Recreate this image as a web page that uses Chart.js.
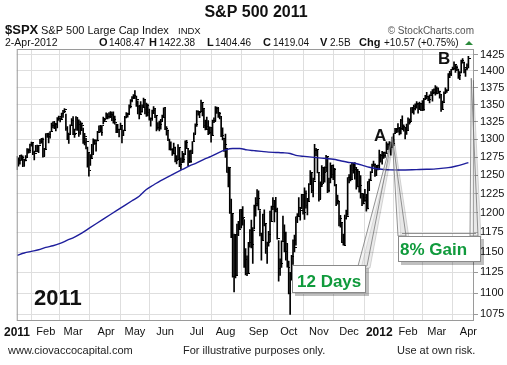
<!DOCTYPE html>
<html><head><meta charset="utf-8">
<script src="https://cdn.jsdelivr.net/npm/chart.js@4.4.1/dist/chart.umd.min.js"></script>
<style>html,body{margin:0;padding:0;background:#fff;}#wrap{width:507px;height:365px;}</style>
</head><body><div id="wrap"><canvas id="c" width="507" height="365"></canvas></div>
<script>
// Daily bars, trading-day index 0 = 3-Jan-2011 ... 314 = 2-Apr-2012
const highs=[
1276.17,1274.12,1277.63,1278.17,1276.83,1271.52,1277.25,1286.87,1286.70,1293.24,1296.06,1294.42,1283.32,1291.26,1291.93,1291.26,1299.74,1301.29,1301.71,1287.17,
1308.14,1306.89,1308.60,1311.00,1322.85,1324.87,1324.57,1322.49,1330.79,1332.96,1330.92,1337.61,1341.50,1344.07,1336.00,1317.91,1308.61,1320.61,1329.38,
1332.28,1314.39,1332.28,1331.08,1327.68,1325.74,1323.21,1315.72,1308.35,1301.19,1288.88,1280.91,1278.66,1292.74,1300.58,1299.35,1299.18,1311.34,1319.18,1319.74,1319.45,1331.74,1329.77,
1337.85,1336.74,1338.21,1339.46,1338.80,1339.38,1333.16,1321.41,1321.35,1314.41,1322.88,1319.68,1313.07,1332.66,1338.11,1337.49,1349.55,1357.32,1361.71,1364.56,
1370.58,1362.41,1355.43,1348.84,1354.36,1349.44,1359.44,1357.16,1351.97,1350.47,1343.33,1330.42,1341.87,1346.82,1342.82,1333.27,1323.72,1325.85,1328.51,1334.62,1345.20,
1345.20,1318.03,1312.94,1300.16,1296.22,1287.04,1294.54,1289.00,1277.30,1292.50,1287.87,1274.11,1283.05,1280.42,1297.62,1298.61,1286.79,1283.93,1284.91,1296.80,1309.21,1321.97,
1341.01,1340.89,1340.12,1356.48,1353.22,1343.31,1327.17,1331.48,1326.68,1317.70,1316.14,1327.16,1330.43,1347.00,1346.10,1344.32,1338.51,1331.91,1316.32,1300.67,
1307.38,1286.56,1261.20,1260.10,1218.11,1198.74,1172.88,1172.64,1185.76,1189.04,1204.49,1204.49,1208.47,1191.40,1154.54,1145.49,1162.35,1178.47,1190.68,1181.23,1210.28,1220.06,1230.71,
1229.29,1203.22,1173.97,1198.62,1204.23,1185.90,1162.59,1176.41,1202.38,1209.11,1220.06,1216.01,1220.39,1206.30,1164.55,1141.72,1164.19,1195.86,1184.71,1175.22,1160.40,
1138.99,1125.12,1146.07,1165.55,1171.40,1194.91,1199.24,1220.25,1207.46,1224.61,1224.58,1233.10,1229.29,1219.36,1239.03,1256.55,1254.19,1246.28,1292.66,1287.08,1285.09,
1253.30,1241.10,1263.21,1260.82,1261.70,1277.55,1275.92,1246.22,1266.98,1263.85,1264.25,1259.61,1237.73,1223.51,1215.65,1196.81,1187.35,1172.66,1197.35,1203.67,1247.11,
1251.09,1264.25,1267.06,1266.73,1267.41,1260.87,1258.25,1255.19,1249.86,1225.73,1225.59,1231.04,1224.57,1241.59,1245.09,1255.22,1265.42,1269.37,1265.85,1263.54,1264.12,
1284.62,1278.73,1283.05,1281.84,1281.99,1296.46,1293.80,1296.82,1294.78,1303.00,1308.11,1315.49,1315.38,1322.28,1315.38,1328.30,1333.47,1320.45,1316.33,1321.41,
1330.52,1329.19,1345.34,1344.90,1349.24,1351.00,1354.32,1351.95,1353.35,1351.77,1355.87,1359.02,1363.40,1367.76,1362.21,1364.24,1368.92,1371.94,1373.09,1378.04,
1376.17,1374.53,1369.59,1363.63,1354.85,1368.72,1374.76,1371.94,1396.13,1399.42,1402.63,1405.88,1414.00,1409.72,1407.75,1402.89,1399.18,1416.58,1419.15,1413.65,1403.28,1410.89,
1422.38];
const lows=[
1257.62,1262.66,1265.36,1270.43,1261.70,1262.18,1269.62,1274.48,1280.47,1281.24,1290.16,1278.44,1271.26,1282.07,1282.47,1281.07,1293.55,1294.41,1274.81,1276.34,
1286.12,1302.62,1294.83,1301.67,1310.87,1316.03,1314.89,1311.74,1316.08,1326.90,1324.82,1329.01,1331.00,1338.12,1312.34,1299.55,1294.26,1307.34,1320.55,
1306.33,1302.58,1312.75,1312.59,1303.99,1306.86,1312.27,1294.21,1291.99,1286.37,1261.12,1249.05,1263.59,1273.72,1279.21,1292.70,1283.27,1297.74,1310.15,1310.19,1305.26,1321.89,1325.03,
1328.89,1329.10,1330.03,1330.67,1326.56,1322.94,1321.41,1309.19,1309.19,1303.11,1313.68,1294.70,1305.14,1312.62,1330.36,1331.70,1335.25,1344.80,1353.60,1358.69,
1358.59,1347.09,1336.36,1329.17,1336.58,1338.64,1346.29,1336.30,1332.66,1333.36,1327.32,1318.51,1326.99,1336.71,1330.68,1311.80,1313.87,1311.80,1314.41,1325.69,1331.10,
1313.71,1305.61,1297.90,1284.89,1284.74,1277.42,1279.56,1268.53,1265.64,1272.22,1261.90,1258.07,1267.64,1267.56,1278.36,1286.79,1262.87,1267.24,1267.53,1280.10,1296.67,1307.61,
1318.18,1334.30,1330.92,1339.22,1333.20,1316.42,1313.33,1314.49,1306.51,1307.35,1295.92,1305.44,1323.65,1325.84,1336.95,1331.09,1329.10,1303.49,1299.16,1282.86,
1274.73,1254.03,1234.56,1199.54,1168.09,1119.28,1101.54,1118.24,1121.09,1170.74,1178.81,1180.53,1184.36,1131.10,1122.05,1121.09,1124.26,1156.30,1155.47,1135.91,1179.28,1195.77,1209.35,
1203.85,1170.56,1140.13,1165.24,1183.34,1148.37,1136.07,1157.44,1162.73,1189.12,1204.46,1188.27,1201.26,1166.21,1114.22,1121.36,1131.07,1163.11,1150.31,1139.93,1131.34,
1098.92,1074.77,1115.68,1134.95,1150.26,1158.66,1187.30,1196.57,1190.58,1205.54,1198.55,1191.48,1206.31,1197.34,1215.39,1238.25,1226.79,1221.06,1243.42,1277.01,1253.30,
1215.42,1218.36,1234.81,1238.92,1240.75,1254.99,1226.64,1227.70,1239.70,1246.68,1244.34,1235.67,1209.43,1211.36,1183.16,1181.65,1161.79,1158.66,1158.67,1191.80,1196.72,
1239.73,1242.48,1244.80,1253.03,1244.80,1231.47,1234.35,1227.45,1219.43,1209.47,1211.82,1215.20,1202.37,1205.35,1229.51,1243.72,1254.00,1262.30,1248.64,1249.64,1257.46,
1258.86,1268.10,1265.26,1273.34,1274.55,1280.70,1285.41,1285.77,1277.58,1289.09,1290.99,1308.04,1309.17,1309.89,1306.06,1307.65,1313.60,1311.42,1300.49,1306.69,
1313.40,1321.57,1325.54,1337.52,1335.92,1341.95,1344.63,1337.35,1342.64,1340.83,1340.80,1341.22,1357.24,1358.11,1355.53,1352.28,1363.46,1354.92,1365.97,1363.81,
1365.68,1366.42,1359.13,1340.03,1343.36,1352.65,1365.91,1367.64,1371.09,1389.97,1392.78,1401.47,1402.43,1397.68,1400.64,1388.73,1386.87,1397.11,1411.95,1397.20,1391.56,1401.42,
1404.46];
const closes=[
1271.87,1270.20,1276.56,1273.85,1271.50,1269.75,1274.48,1285.96,1283.76,1293.24,1295.02,1281.92,1280.26,1283.35,1290.84,1291.18,1296.63,1299.54,1276.34,1286.12,
1307.59,1304.03,1307.10,1310.87,1319.05,1324.57,1320.88,1321.87,1329.15,1332.32,1328.01,1336.32,1340.43,1343.01,1315.44,1307.40,1306.10,1319.88,1327.22,
1306.33,1308.44,1330.97,1321.15,1310.13,1321.82,1320.02,1295.11,1304.28,1296.39,1281.87,1256.88,1273.72,1279.21,1298.38,1293.77,1297.54,1309.66,1313.80,1310.19,1319.44,1328.26,1325.83,
1332.41,1332.87,1332.63,1335.54,1333.51,1328.17,1324.46,1314.16,1314.41,1314.52,1319.68,1305.14,1312.62,1330.36,1337.38,1335.25,1347.24,1355.66,1360.48,1363.61,
1361.22,1356.62,1347.32,1335.10,1340.20,1346.29,1357.16,1342.08,1348.65,1337.77,1329.47,1328.98,1340.68,1343.60,1333.27,1317.37,1316.28,1320.47,1325.69,1331.10,1345.20,
1314.55,1312.94,1300.16,1286.17,1284.94,1279.56,1289.00,1270.98,1271.83,1287.87,1265.42,1267.64,1271.50,1278.36,1295.52,1287.14,1283.50,1268.45,1280.10,1296.67,1307.41,1320.64,
1339.67,1337.88,1339.22,1353.22,1343.80,1319.49,1313.64,1317.72,1308.87,1316.14,1305.44,1326.73,1325.84,1343.80,1345.02,1337.43,1331.94,1304.89,1300.67,1292.28,
1286.94,1254.05,1260.34,1200.07,1199.38,1119.46,1172.53,1120.76,1172.64,1178.81,1204.49,1192.76,1193.89,1140.65,1123.53,1123.82,1162.35,1177.60,1159.27,1176.80,1210.08,1212.92,1218.89,
1204.42,1173.97,1165.24,1198.62,1185.90,1154.23,1162.27,1172.87,1188.68,1209.11,1216.01,1204.09,1202.09,1166.76,1129.56,1136.43,1162.95,1175.38,1151.06,1160.40,1131.42,
1099.23,1123.95,1144.03,1164.97,1155.46,1194.89,1195.54,1207.25,1203.66,1224.58,1200.86,1225.38,1209.88,1215.39,1238.25,1254.19,1229.05,1242.00,1284.59,1285.09,1253.30,
1218.28,1237.90,1261.15,1253.23,1261.12,1275.92,1229.10,1239.70,1263.85,1251.78,1257.81,1236.91,1216.13,1215.65,1192.98,1188.04,1161.79,1158.67,1192.55,1195.19,1246.96,
1244.58,1244.28,1257.08,1258.47,1261.01,1234.35,1255.19,1236.47,1225.73,1211.82,1215.75,1219.66,1205.35,1241.30,1243.72,1254.00,1265.33,1265.43,1249.64,1263.02,1257.60,
1277.06,1277.30,1281.06,1277.81,1280.70,1292.08,1292.48,1295.50,1289.09,1293.67,1308.04,1314.50,1315.38,1316.00,1314.65,1326.06,1318.43,1316.33,1313.01,1312.41,
1324.09,1325.54,1344.90,1344.33,1347.05,1349.96,1351.95,1342.64,1351.77,1350.50,1343.23,1358.04,1361.23,1362.21,1357.66,1363.46,1365.74,1367.59,1372.18,1365.68,
1374.09,1369.63,1364.33,1343.36,1352.63,1365.91,1370.87,1371.09,1395.95,1394.28,1402.60,1404.17,1409.75,1405.52,1402.89,1392.78,1397.11,1416.51,1412.52,1405.54,1403.28,1408.47,
1419.04];
// 200-day moving average (every 5th trading day)
const maIdx=[0,5,10,15,20,25,30,35,40,45,50,55,60,65,70,75,80,85,90,95,100,105,110,115,120,125,130,135,140,145,150,155,160,165,170,175,180,185,190,195,200,205,210,215,220,225,230,235,240,245,250,255,260,265,270,275,280,285,290,295,300,305,310,314];
const maVals=[1146,1149,1151,1153,1156,1158,1161,1165,1169,1174,1180,1186,1192,1198,1204,1210,1216,1222,1231,1237,1243,1248,1253,1258,1263,1267,1272,1276,1281,1285,1287,1287,1285,1284,1283,1282,1281.5,1281,1280,1277,1276,1275,1274,1273,1272,1270,1268,1266.5,1264,1261,1259,1258,1257.5,1257.4,1257.4,1257.6,1258,1258.3,1258.5,1259.5,1260.5,1262.5,1265,1267.5];
const yTicks=[1075,1100,1125,1150,1175,1200,1225,1250,1275,1300,1325,1350,1375,1400,1425];
const monthIdx=[0,20,39,62,82,103,125,145,168,189,210,231,252,272,292,314];
const monthLabels=['2011','Feb','Mar','Apr','May','Jun','Jul','Aug','Sep','Oct','Nov','Dec','2012','Feb','Mar','Apr'];

const FF="'Liberation Sans', Arial, sans-serif";
Chart.defaults.font.family=FF;

// right-hand close tick
const tick=document.createElement('canvas'); tick.width=5; tick.height=1;
{const t=tick.getContext('2d'); t.fillStyle='#000'; t.fillRect(3,0,2,1);}

const rangeData=highs.map((h,i)=>({x:i,y:[lows[i],h]}));
const closeData=closes.map((c,i)=>({x:i,y:c}));
const maData=maIdx.map((v,i)=>({x:v,y:maVals[i]}));

function wedge(ctx,tip,b1,b2){
  ctx.beginPath();ctx.moveTo(tip[0]+2,tip[1]+2);ctx.lineTo(b1[0]+3,b1[1]+2);ctx.lineTo(b2[0]+3,b2[1]+2);ctx.closePath();
  ctx.fillStyle='rgba(0,0,0,0.08)';ctx.fill();
  ctx.strokeStyle='rgba(0,0,0,0.15)';ctx.lineWidth=1;ctx.stroke();
  ctx.beginPath();ctx.moveTo(tip[0],tip[1]);ctx.lineTo(b1[0],b1[1]);ctx.lineTo(b2[0],b2[1]);ctx.closePath();
  ctx.fillStyle='rgba(225,225,225,0.35)';ctx.fill();
  ctx.strokeStyle='rgba(120,120,120,0.8)';ctx.lineWidth=1;ctx.stroke();
}
function callBox(ctx,x,y,w,h){
  ctx.fillStyle='rgba(0,0,0,0.25)';ctx.fillRect(x+3,y+3,w,h);
  ctx.fillStyle='#fff';ctx.fillRect(x,y,w,h);
  ctx.strokeStyle='#8a8a8a';ctx.lineWidth=1;ctx.strokeRect(x+0.5,y+0.5,w-1,h-1);
}

const overlay={
  id:'overlay',
  afterDraw(chart){
    const {ctx,chartArea:a,scales:{x,y}}=chart;
    ctx.save();
    ctx.strokeStyle='#9a9a9a';ctx.lineWidth=1;
    ctx.strokeRect(a.left+0.5,a.top+0.5,a.right-a.left-1,a.bottom-a.top-1);
    const tipA=[x.getPixelForValue(261),y.getPixelForValue(1303)];
    const tipB=[x.getPixelForValue(316),y.getPixelForValue(1389)];
    wedge(ctx,tipA,[358,266],[367,266]);
    wedge(ctx,tipA,[398,236],[406,236]);
    wedge(ctx,tipB,[470,236],[478,236]);
    ctx.strokeStyle='rgba(120,120,120,0.8)';
    ctx.beginPath();ctx.moveTo(402,233.5);ctx.lineTo(476,233.5);ctx.stroke();
    callBox(ctx,292,265,74,28);
    callBox(ctx,398,236,83,26);
    ctx.fillStyle='#109a3c';ctx.font='bold 17px '+FF;ctx.textBaseline='alphabetic';ctx.textAlign='left';
    ctx.fillText('12 Days',297,287);
    ctx.fillText('8% Gain',400,255);
    ctx.fillStyle='#111';
    ctx.font='bold 17px '+FF;
    ctx.fillText('A',374,141);
    ctx.fillText('B',438,64);
    ctx.font='bold 22px '+FF;
    ctx.fillText('2011',34,305);
    ctx.textAlign='center';ctx.font='bold 16px '+FF;ctx.fillStyle='#111';
    ctx.fillText('S&P 500 2011',256,17);
    ctx.textAlign='left';
    ctx.font='bold 13px '+FF;ctx.fillText('$SPX',5,34);
    ctx.font='11px '+FF;ctx.fillText('S&P 500 Large Cap Index',41,34);
    ctx.font='9.5px '+FF;ctx.fillText('INDX',178,34);
    ctx.textAlign='right';ctx.fillStyle='#555';ctx.font='10px '+FF;
    ctx.fillText('\u00A9 StockCharts.com',474,34);
    ctx.textAlign='left';ctx.fillStyle='#111';
    ctx.font='10.5px '+FF;ctx.fillText('2-Apr-2012',5,46);
    const parts=[['O',99,'1408.47',109],['H',149,'1422.38',159],['L',207,'1404.46',215],['C',263,'1419.04',273],['V',320,'2.5B',330],['Chg',359,'+10.57 (+0.75%)',384]];
    parts.forEach(p=>{ctx.font='bold 11px '+FF;ctx.fillText(p[0],p[1],46);ctx.font='10px '+FF;ctx.fillText(p[2],p[3],46);});
    ctx.fillStyle='#2a8a3a';ctx.beginPath();ctx.moveTo(465,45);ctx.lineTo(473,45);ctx.lineTo(469,41);ctx.closePath();ctx.fill();
    ctx.fillStyle='#222';ctx.font='11px '+FF;
    ctx.fillText('www.ciovaccocapital.com',8,354);
    ctx.fillText('For illustrative purposes only.',183,354);
    ctx.fillText('Use at own risk.',397,354);
    ctx.restore();
  }
};

new Chart(document.getElementById('c'),{
  type:'bar',
  data:{datasets:[
    {type:'line',label:'200-day MA',data:maData,borderColor:'#1e1e9c',borderWidth:1.4,pointRadius:0,cubicInterpolationMode:'monotone',order:0},
    {type:'line',label:'Close',data:closeData,showLine:false,pointStyle:tick,pointRadius:2,order:1},
    {type:'bar',label:'Range',data:rangeData,backgroundColor:'#000',borderWidth:0,barThickness:1,grouped:false,order:2}
  ]},
  options:{
    responsive:false,animation:false,
    layout:{padding:{left:14,top:49,right:0,bottom:0}},
    plugins:{legend:{display:false},tooltip:{enabled:false}},
    scales:{
      x:{type:'linear',min:-0.2,max:317.9,offset:false,
        grid:{color:'#dedede',drawTicks:false},border:{display:false},
        afterBuildTicks:s=>{s.ticks=monthIdx.map(v=>({value:v}));},
        afterFit:s=>{s.height=44;},
        ticks:{autoSkip:false,maxRotation:0,padding:4,color:'#111',
          font:c=>(c.tick&&(c.tick.value===0||c.tick.value===252))?{size:12,weight:'bold'}:{size:11},
          callback:(v,i)=>monthLabels[i]}},
      y:{type:'logarithmic',position:'right',min:1067.2,max:1433.8,
        grid:{color:'#dedede',tickLength:4,tickColor:'#999'},border:{display:false},
        afterBuildTicks:s=>{s.ticks=yTicks.map(v=>({value:v}));},
        afterFit:s=>{s.width=33;},
        ticks:{padding:2,color:'#111',font:{size:11},callback:v=>String(v)}}
    }
  },
  plugins:[overlay]
});
</script></body></html>
